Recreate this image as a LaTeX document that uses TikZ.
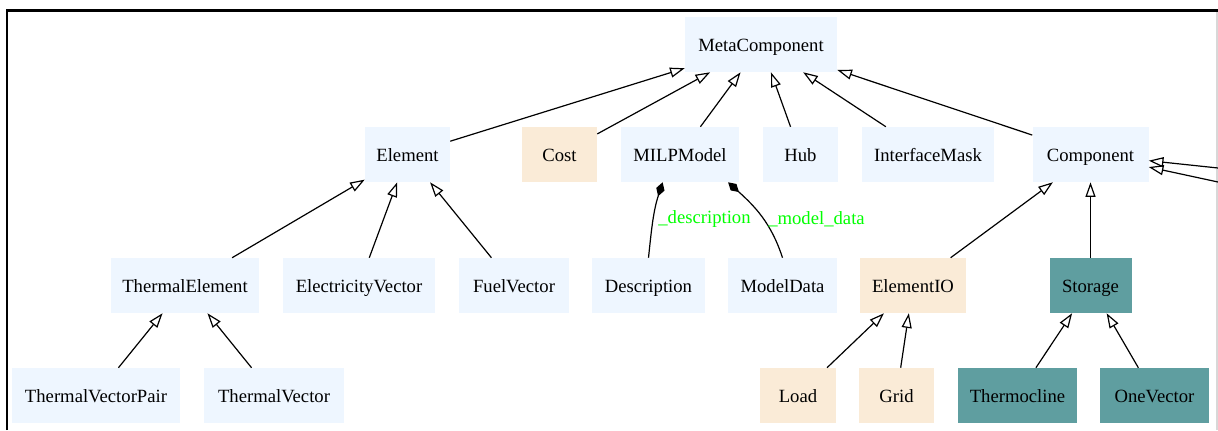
\documentclass[tikz,border=0pt]{standalone}
\usepackage{fontspec}
\setmainfont{Liberation Serif}
\usepackage{tikz}
\usetikzlibrary{arrows.meta}
\definecolor{sinifMavi}{HTML}{EEF6FF}
\definecolor{sinifBej}{HTML}{FAEBD7}
\definecolor{sinifTeal}{HTML}{5F9EA0}
\definecolor{etiketYesil}{HTML}{00FF00}
\definecolor{kenarGri}{HTML}{D8D8D8}

\begin{document}
\begin{tikzpicture}[x=0.75pt,y=0.75pt,
  sinif/.style={fill=sinifMavi,minimum height=41.25pt,inner sep=0pt,
    text height=13.5pt,text depth=2.5pt,font=\fontsize{14}{16}\selectfont},
  bej/.style={sinif,fill=sinifBej},
  teal/.style={sinif,fill=sinifTeal},
  kalitim/.style={line width=0.9pt,-{Triangle[open,length=11pt,width=7.5pt]}},
  parca/.style={line width=0.9pt,-{Diamond[length=11pt,width=6.5pt]}},
  etiket/.style={etiketYesil,font=\fontsize{14}{16}\selectfont}]
\useasboundingbox (0,0) rectangle (1218,430);
% cerceve
\draw[line width=1.9pt] (7,0) -- (7,419.5) -- (1218,419.5);
\draw[kenarGri,line width=0.8pt] (1217,0) -- (1217,418.5);
% ust
\node[sinif,minimum width=114pt] (meta) at (761,385.5) {MetaComponent};
% 2. sira
\node[sinif,minimum width=63.75pt] (element) at (407.5,275.5) {Element};
\node[bej,minimum width=56.25pt] (cost) at (559.5,275.5) {Cost};
\node[sinif,minimum width=88.5pt] (milp) at (680,275.5) {MILPModel};
\node[sinif,minimum width=56.25pt] (hub) at (800.5,275.5) {Hub};
\node[sinif,minimum width=99pt] (imask) at (928,275.5) {InterfaceMask};
\node[sinif,minimum width=87pt] (comp) at (1090.5,275.5) {Component};
% 3. sira
\node[sinif,minimum width=111pt] (thel) at (185,144.5) {ThermalElement};
\node[sinif,minimum width=114pt] (elvec) at (359,144.5) {ElectricityVector};
\node[sinif,minimum width=82.5pt] (fuelvec) at (514,144.5) {FuelVector};
\node[sinif,minimum width=84.75pt] (desc) at (648.5,144.5) {Description};
\node[sinif,minimum width=81.75pt] (mdata) at (782.5,144.5) {ModelData};
\node[bej,minimum width=79.5pt] (elio) at (913,144.5) {ElementIO};
\node[teal,minimum width=61.5pt] (stor) at (1090.5,144.5) {Storage};
% alt
\node[sinif,minimum width=126pt] (tvpair) at (96,34.5) {ThermalVectorPair};
\node[sinif,minimum width=105pt] (tvec) at (274,34.5) {ThermalVector};
\node[bej,minimum width=57pt] (load) at (798,34.5) {Load};
\node[bej,minimum width=56.25pt] (grid) at (896.5,34.5) {Grid};
\node[teal,minimum width=89.25pt] (thermo) at (1017.5,34.5) {Thermocline};
\node[teal,minimum width=81.75pt] (onevec) at (1154.5,34.5) {OneVector};
% kalitim oklari
\foreach \c/\p in {element/meta,cost/meta,milp/meta,hub/meta,imask/meta,comp/meta,
  thel/element,elvec/element,fuelvec/element,elio/comp,stor/comp,
  tvpair/thel,tvec/thel,load/elio,grid/elio,thermo/stor,onevec/stor}
  \draw[kalitim] (\c) -- (\p);
% disaridan gelenler
\coordinate (disA) at (1218,262);
\coordinate (disB) at (1218,248);
\draw[kalitim] (disA) -- (comp);
\draw[kalitim] (disB) -- (comp);
% bilesim
\draw[parca] (desc.north) to[out=84,in=-108] (milp.238);
\draw[parca] (mdata.north) to[out=108,in=-42] (milp.330);
\node[etiket] (ldesc) at (704.5,211) {\_description};
\node[etiket] (lmdata) at (816.5,211) {\_model\_data};
\end{tikzpicture}
\end{document}
